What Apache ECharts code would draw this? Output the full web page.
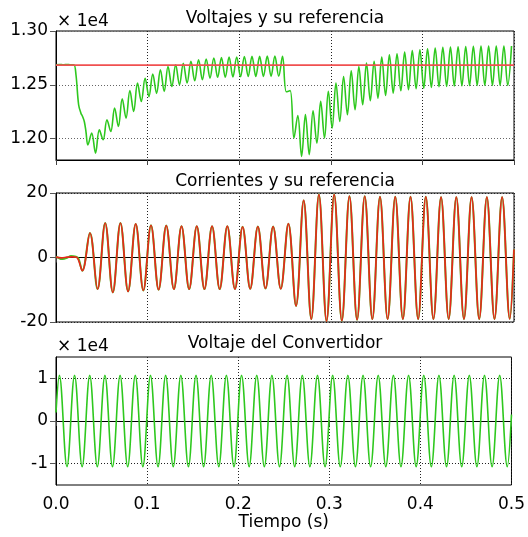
<!DOCTYPE html>
<html><head><meta charset="utf-8">
<script src="https://cdn.jsdelivr.net/npm/echarts@6/dist/echarts.min.js"></script>
<style>html,body{margin:0;padding:0;background:#fff}#c{width:528px;height:537px}</style>
</head><body><div id="c"></div>
<script>
// ---- tick labels / titles ----
const xTicks = [0.0, 0.1, 0.2, 0.3, 0.4, 0.5];
const voltTicks = [1.20, 1.25, 1.30];
const curTicks = [-20, 0, 20];
const convTicks = [-1, 0, 1];
const titles = ['Voltajes y su referencia', 'Corrientes y su referencia', 'Voltaje del Convertidor'];
const scaleNote = '× 1e4';
const xName = 'Tiempo (s)';

// ---- Panel 1: voltage magnitude (x1e4) ----
const voltLeadT = [0, 0.004, 0.008, 0.012, 0.016, 0.0195, 0.0218, 0.0247, 0.0272, 0.029, 0.0309, 0.0327];
const voltLeadV = [1.2686, 1.2689, 1.2685, 1.2689, 1.2685, 1.2686, 1.2593, 1.2314, 1.2236, 1.2205, 1.2158, 1.2065];
const voltOscStart = 0.0348;      // time of first extremum read
const voltOscStep = 1 / 240;      // half period of the 120 Hz ripple
const voltOsc = [
  1.194, 1.205, 1.1864, 1.208, 1.1988, 1.2174, 1.2065, 1.2283, 1.2112, 1.237,
  1.219, 1.2447, 1.2251, 1.2516, 1.2345, 1.256, 1.239, 1.260, 1.242, 1.264,
  1.2438, 1.267, 1.2484, 1.2686, 1.250, 1.270, 1.2516, 1.2717, 1.2537, 1.2733,
  1.2547, 1.274, 1.2562, 1.2749, 1.257, 1.2754, 1.257, 1.2758, 1.2572, 1.2758,
  1.2575, 1.2762, 1.2578, 1.2764, 1.2578, 1.2764, 1.2578, 1.2766, 1.2578, 1.2766,
  1.258, 1.2764, 1.2435, 1.2445, 1.2004, 1.2214, 1.1833, 1.2223, 1.1849, 1.2258,
  1.1957, 1.2345, 1.2004, 1.2438, 1.2097, 1.2516, 1.2158, 1.2577, 1.2221, 1.2630,
  1.2267, 1.267, 1.2314, 1.2702, 1.2351, 1.2717, 1.2376, 1.2758, 1.240, 1.2779,
  1.2422, 1.2789, 1.2444, 1.2804, 1.2453, 1.2817, 1.2463, 1.2826, 1.2469, 1.2835,
  1.2475, 1.2841, 1.2481, 1.2848, 1.2485, 1.2851, 1.2488, 1.2854, 1.249, 1.2856,
  1.2492, 1.2858, 1.2494, 1.286, 1.2494, 1.286, 1.2494, 1.286, 1.2494, 1.286,
  1.2494, 1.286
];
const voltRefT = [0, 0.5];
const voltRefV = [1.2683, 1.2683];

// ---- Panel 2: currents ----
const curGreenLeadT = [0, 0.0073, 0.0127, 0.0163, 0.0218, 0.0245];
const curGreenLeadV = [0.3, -0.5, 0, 0.5, 0.25, -0.3];
const curRedLeadT = [0, 0.006, 0.012, 0.018, 0.0225];
const curRedLeadV = [0.1, -0.1, 0.1, 0.2, 0.1];
const curOscStart = 0.0287;
const curOscStep = 1 / 120;
const curOsc = [
  -4.1, 7.6, -9.8, 10.7, -10.8, 10.7, -10.5, 10.4, -10.2, 10.0,
  -10.0, 9.9, -9.8, 9.7, -9.8, 9.7, -9.8, 9.7, -9.8, 9.7,
  -9.8, 9.5, -9.7, 9.6, -9.6, 9.6, -9.7, 10.5, -15.0, 17.7,
  -19.1, 19.5, -19.7, 19.5, -19.6, 19.0, -19.3, 19.0, -19.1, 18.8,
  -19.1, 18.8, -19.1, 18.8, -19.1, 18.8, -19.1, 18.7, -19.1, 18.7,
  -19.1, 18.7, -19.1, 18.7, -19.1, 18.7, -19.0
];
const curTailT = [0.5];
const curTailV = [2.5];

// ---- Panel 3: converter voltage (x1e4) ----
const convLeadT = [0];
const convLeadV = [0.2];
const convOscStart = 0.0037;
const convOscStep = 1 / 120;
const convOsc = [
  1.07, -1.07, 1.07, -1.07, 1.07, -1.07, 1.07, -1.07, 1.07, -1.07,
  1.07, -1.07, 1.07, -1.07, 1.07, -1.07, 1.07, -1.07, 1.07, -1.07,
  1.07, -1.07, 1.07, -1.07, 1.07, -1.07, 1.07, -1.07, 1.07, -1.07,
  1.07, -1.07, 1.07, -1.07, 1.07, -1.07, 1.07, -1.07, 1.07, -1.07,
  1.07, -1.07, 1.07, -1.07, 1.07, -1.07, 1.07, -1.07, 1.07, -1.07,
  1.07, -1.07, 1.07, -1.07, 1.07, -1.07, 1.07, -1.07, 1.07, -1.07
];
const convTailT = [0.5];
const convTailV = [0.15];

// ---- build [t, v] pairs ----
function build(leadT, leadV, start, step, osc, tailT, tailV) {
  const out = [];
  leadT.forEach((t, i) => out.push([t, leadV[i]]));
  osc.forEach((v, k) => out.push([start + k * step, v]));
  (tailT || []).forEach((t, i) => out.push([t, tailV[i]]));
  return out;
}
const voltData = build(voltLeadT, voltLeadV, voltOscStart, voltOscStep, voltOsc);
const voltRefData = voltRefT.map((t, i) => [t, voltRefV[i]]);
const curGreenData = build(curGreenLeadT, curGreenLeadV, curOscStart, curOscStep, curOsc, curTailT, curTailV);
const curRedData = build(curRedLeadT, curRedLeadV, curOscStart, curOscStep, curOsc, curTailT, curTailV);
const convData = build(convLeadT, convLeadV, convOscStart, convOscStep, convOsc, convTailT, convTailV);

const FONT = 'DejaVu Sans';
const SMOOTH = 0.37;
const chart = echarts.init(document.getElementById('c'), null, {renderer: 'canvas'});

function xAxis(i, labels) {
  return {
    type: 'value', gridIndex: i, min: xTicks[0], max: xTicks[xTicks.length - 1], interval: 0.1,
    axisLine: {show: true, lineStyle: {color: '#000', width: 1}},
    axisTick: {show: true, inside: false, length: 5, lineStyle: {color: '#444'}},
    axisLabel: {show: labels, fontFamily: FONT, fontSize: 17, color: '#000', margin: 11,
      formatter: v => v.toFixed(1)},
    splitLine: {show: true, lineStyle: {color: '#222', type: [1, 2], width: 1}},
    name: labels ? xName : '', nameLocation: 'middle', nameGap: 27,
    nameTextStyle: {fontFamily: FONT, fontSize: 17, color: '#000'}
  };
}
function yAxis(i, min, max, ticks, fmt, gridColor) {
  return {
    type: 'value', gridIndex: i, min: min, max: max,
    axisLine: {show: true, lineStyle: {color: '#000', width: 1}},
    axisTick: {show: true, inside: false, length: 6, customValues: ticks, lineStyle: {color: '#555'}},
    axisLabel: {show: true, customValues: ticks, fontFamily: FONT, fontSize: 17, color: '#000', margin: 8, formatter: fmt},
    splitLine: {show: true, lineStyle: {color: gridColor, type: [1, 2], width: 1}}
  };
}
const gridBase = {left: 56, right: 14, show: true, borderColor: '#000', borderWidth: 1, containLabel: false};

const textStyle = (txt, x, y, align) => ({
  type: 'text', x: x, y: y, silent: true,
  style: {text: txt, fill: '#000', font: '17px "' + FONT + '"', textAlign: align, textVerticalAlign: 'middle'}
});

chart.setOption({
  animation: false,
  backgroundColor: '#fff',
  grid: [
    Object.assign({}, gridBase, {top: 31, height: 129}),
    Object.assign({}, gridBase, {top: 193, height: 129}),
    Object.assign({}, gridBase, {top: 357, height: 128})
  ],
  xAxis: [xAxis(0, false), xAxis(1, false), xAxis(2, true)],
  yAxis: [
    yAxis(0, 1.18, 1.30, voltTicks, v => v.toFixed(2), '#666'),
    yAxis(1, -20, 20, curTicks, v => String(Math.round(v)), '#222'),
    yAxis(2, -1.5, 1.5, convTicks, v => String(Math.round(v)), '#222')
  ],
  graphic: [
    textStyle(titles[0], 285, 19, 'center'),
    textStyle(titles[1], 285, 182, 'center'),
    textStyle(titles[2], 285, 344, 'center'),
    textStyle(scaleNote, 57, 21.5, 'left'),
    textStyle(scaleNote, 57, 346.5, 'left')
  ],
  series: [
    {type: 'line', xAxisIndex: 0, yAxisIndex: 0, data: voltData, showSymbol: false, smooth: SMOOTH,
      lineStyle: {color: '#2ec81e', width: 1.6}, z: 2},
    {type: 'line', xAxisIndex: 0, yAxisIndex: 0, data: voltRefData, showSymbol: false,
      lineStyle: {color: '#f05050', width: 1.6}, z: 3},
    {type: 'line', xAxisIndex: 1, yAxisIndex: 1, data: curGreenData, showSymbol: false, smooth: SMOOTH,
      lineStyle: {color: '#44c424', width: 2.0}, z: 2},
    {type: 'line', xAxisIndex: 1, yAxisIndex: 1, data: curRedData, showSymbol: false, smooth: SMOOTH,
      lineStyle: {color: '#e8281c', width: 1.7}, z: 3},
    {type: 'line', xAxisIndex: 2, yAxisIndex: 2, data: convData, showSymbol: false, smooth: SMOOTH,
      lineStyle: {color: '#2ec81e', width: 1.6}, z: 2}
  ]
});
</script>
</body></html>
